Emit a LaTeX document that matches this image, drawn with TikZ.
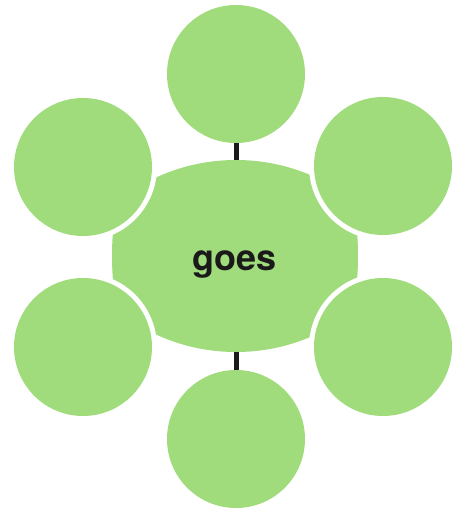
\documentclass[tikz,border=0pt]{standalone}
\usepackage{fontspec}
\setmainfont{TeX Gyre Heros}
\definecolor{leaf}{HTML}{A0DC7C}
\definecolor{ink}{HTML}{1A1A1A}
\begin{document}
\begin{tikzpicture}[x=1pt,y=-1pt,
  bubble/.style={circle,fill=leaf,inner sep=0pt,outer sep=0pt,minimum size=138pt},
  gap/.style={fill=white},
  link/.style={line width=5pt,ink},
  word/.style={font=\bfseries\fontsize{36}{40}\selectfont,text=ink,anchor=base}]
\useasboundingbox (0,0) rectangle (452,509);
\coordinate (pT) at (236,74);
\coordinate (pUL) at (83,167);
\coordinate (pUR) at (383,166);
\coordinate (pLL) at (83,347);
\coordinate (pLR) at (383,347);
\coordinate (pB) at (236,439);
\coordinate (ctop) at (236,160);
\coordinate (cbot) at (236,352);
% central shape
\begin{scope}
  \clip (236,351) circle (191pt);
  \clip (236,161) circle (191pt);
  \clip (412,256) circle (300pt);
  \clip (58,256) circle (300pt);
  \fill[leaf] (100,150) rectangle (370,360);
\end{scope}
% white gaps around side circles
\foreach \p in {pUL,pUR,pLL,pLR} \fill[gap] (\p) circle (74pt);
% outer circles
\node[bubble] (t) at (pT) {};
\node[bubble] (ul) at (pUL) {};
\node[bubble] (ur) at (pUR) {};
\node[bubble] (ll) at (pLL) {};
\node[bubble] (lr) at (pLR) {};
\node[bubble] (b) at (pB) {};
% label
\node[word] (lbl) at (235,270) {goes};
% connectors
\draw[link] (t) -- (ctop);
\draw[link] (b) -- (cbot);
\end{tikzpicture}
\end{document}
